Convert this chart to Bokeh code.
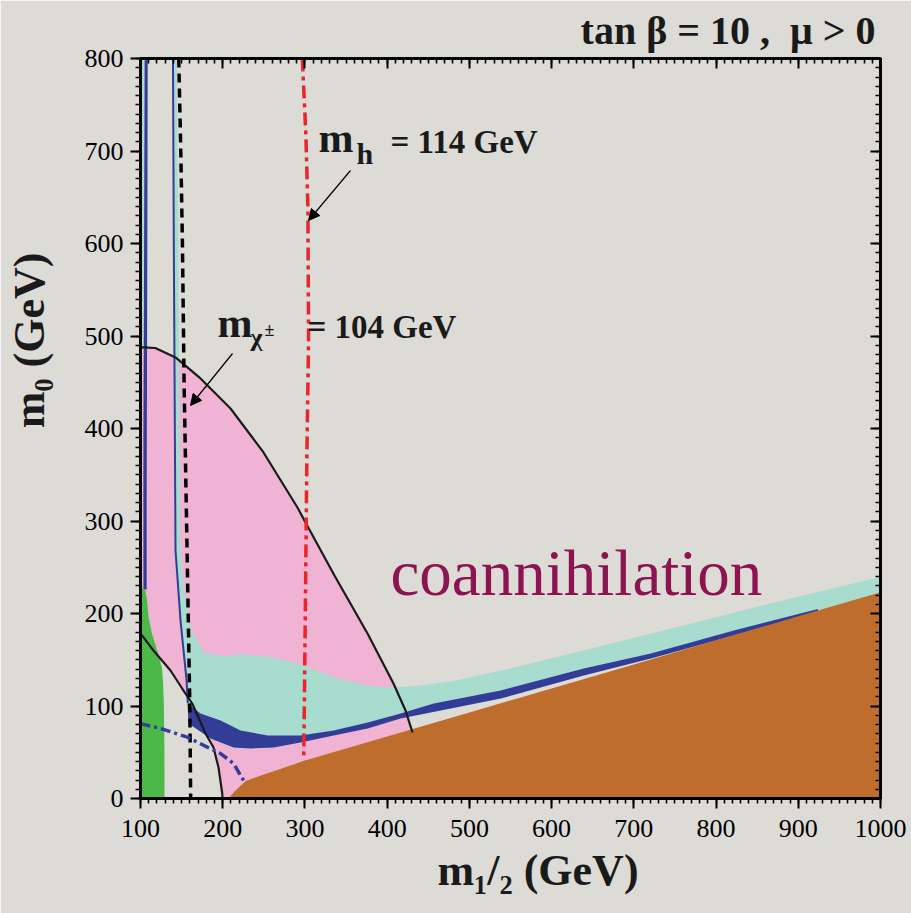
import math
from bokeh.plotting import figure
from bokeh.models import Range1d, LinearAxis, Label, Arrow, NormalHead, FixedTicker, Title
from bokeh.embed import file_html
from bokeh.resources import INLINE

# ---------------- data: (m_1/2, m_0) in GeV ----------------
x_ticks = [100, 200, 300, 400, 500, 600, 700, 800, 900, 1000]
y_ticks = [0, 100, 200, 300, 400, 500, 600, 700, 800]

# g-2 favoured region: upper and lower contours
gm2_up_m12 = [100, 103.6, 118, 142.6, 173, 209.5, 249.6, 290.9, 300.7, 335.9, 376.1, 407.7, 422.3, 430.8]
gm2_up_m0 = [487.6, 487.6, 487, 476.8, 454.1, 421.6, 374.1, 314.6, 298.4, 241.1, 178.4, 124.3, 95.1, 71.4]
gm2_lo_m12 = [100, 102, 115.8, 136.5, 150.7, 162.9, 179.1, 188.8, 194.9, 199.4, 199.8]
gm2_lo_m0 = [178, 176, 160, 138.4, 118.9, 102.7, 70.3, 55.1, 33.5, 5.4, 0]

# older relic-density band (0.1 < Omega h^2 < 0.3)
cyan_m12 = [139.5, 140.5, 142.6, 148.7, 156, 157.5, 158.4, 185, 213, 234, 262, 295, 335, 376,
            416, 538, 639, 721, 822, 924, 1000, 1000, 997, 903, 781.5, 660, 538, 477, 437, 404,
            376, 335, 298, 262, 225, 201, 177, 161, 155, 148.7, 146, 144]
cyan_m0 = [800, 600, 268, 192, 128, 103, 81, 65, 55, 54, 55, 60.5, 68, 76,
           86.5, 108, 133, 151, 176, 202, 223, 240, 239, 219, 192, 165, 138, 126.5, 122, 120,
           122, 131, 144, 152.4, 155.7, 153.5, 157.8, 185, 214, 268, 600, 800]
cyan_left_m12 = [100, 105, 104, 100]
cyan_left_m0 = [800, 800, 487, 487]

# WMAP relic-density band (0.094 < Omega h^2 < 0.129)
wmap_m12 = [157.2, 173, 197.4, 221.7, 254.6, 294.7, 334.9, 376.3, 416.4, 456.6, 538.1, 639.1,
            720.7, 821.7, 924, 924, 821.7, 720.7, 639.1, 538.1, 416.4, 376.3, 334.9, 294.7,
            261.9, 233.9, 213.2, 185.2, 158.4]
wmap_m0 = [102.7, 91.9, 84.3, 73.5, 68.1, 68.1, 73.5, 82.2, 91.9, 102.7, 116.8, 140.5,
           156.8, 181.6, 205, 202, 176.2, 151.4, 133, 108.1, 86.5, 75.7, 68.1, 60.5,
           55.1, 54.1, 55.1, 64.9, 81.1]
wmap_left_m12 = [105, 108.8, 108, 107.5, 107.5, 103.5, 103.5, 104]
wmap_left_m0 = [800, 800, 487, 320, 226, 226, 400, 487]
wmap_edge_m12 = [139.5, 140.5, 142.6, 148.7, 156, 157.5]
wmap_edge_m0 = [800, 600, 268, 192, 128, 103]

# b -> s gamma excluded
bsg_m12 = [100, 129.2, 129, 128.5, 127.5, 126, 121, 114, 110, 108, 106, 103, 100]
bsg_m0 = [0, 0, 60, 100, 125, 142, 158, 178, 195, 214, 225, 228, 226]

# charged LSP (stau) excluded
stau_m12 = [207, 215, 228, 250, 300, 400, 500, 600, 700, 800, 900, 1000, 1000]
stau_m0 = [0, 8, 19, 26, 41, 67, 93, 119, 145, 171, 197, 223, 0]

# LEP limits
chargino_m12 = [146.5, 149, 151, 153, 156, 158, 160, 161]
chargino_m0 = [800, 700, 600, 450, 300, 200, 100, 0]
higgs_m12 = [296.8, 301, 303.6, 304.4, 302.5, 301, 299.5, 298.5]
higgs_m0 = [800, 720, 639, 495, 380, 250, 120, 43]
selectron_m12 = [100, 124.3, 156.8, 181.2, 197.4, 213.2, 225.3]
selectron_m0 = [81, 75.7, 66.3, 55.5, 48.6, 37.8, 19.5]

# ---------------- figure geometry ----------------
W, H = 911, 913
BL, BR, BT, BB = 140, 31, 58, 115
FW, FH = W - BL - BR, H - BT - BB
X0, X1, Y0, Y1 = 100, 1000, 0, 800


def dx(px):
    return X0 + (px - BL) * (X1 - X0) / FW


def dy(py):
    return Y0 + (H - BB - py) * (Y1 - Y0) / FH


BG = "#dddbd6"
SERIF = "Liberation Serif"
INK = "#1a1a1a"
NBSP = "\u00a0"

p = figure(width=W, height=H, x_range=Range1d(X0, X1), y_range=Range1d(Y0, Y1),
           output_backend="svg", toolbar_location=None,
           min_border_left=BL, min_border_right=BR, min_border_top=BT, min_border_bottom=BB)
p.background_fill_color = BG
p.border_fill_color = BG
p.grid.visible = False
p.outline_line_color = "black"
p.outline_line_width = 3

x_minor = list(range(100, 1001, 10))
y_minor = list(range(0, 801, 10))


def style_axis(ax, ticks, minor, inward, labels):
    ax.ticker = FixedTicker(ticks=ticks, minor_ticks=minor)
    ax.axis_line_width = 3
    ax.axis_line_color = "black"
    ax.major_tick_line_width = 2
    ax.minor_tick_line_width = 1.6
    ax.major_tick_line_color = "black"
    ax.minor_tick_line_color = "black"
    if inward:
        ax.major_tick_in, ax.major_tick_out = 10, 0
        ax.minor_tick_in, ax.minor_tick_out = 5, 0
    else:
        ax.major_tick_in, ax.major_tick_out = 0, 10
        ax.minor_tick_in, ax.minor_tick_out = 0, 5
    if labels:
        ax.major_label_text_font = SERIF
        ax.major_label_text_font_size = "26px"
        ax.major_label_text_color = "black"
    else:
        ax.major_label_text_font_size = "0px"
        ax.major_label_text_color = None
        ax.major_label_standoff = 0


style_axis(p.xaxis[0], x_ticks, x_minor, False, True)
p.xaxis[0].major_label_standoff = 11
style_axis(p.yaxis[0], y_ticks, y_minor, False, True)
p.yaxis[0].major_label_standoff = 7

# axis titles (bold serif, unicode subscripts)
for ax, lab, pad, standoff in ((p.xaxis[0], "m₁/₂ (GeV)", 5, 6), (p.yaxis[0], "m₀ (GeV)", 16, 28)):
    ax.axis_label = NBSP * pad + lab
    ax.axis_label_text_font = SERIF
    ax.axis_label_text_font_style = "bold"
    ax.axis_label_text_font_size = "44px"
    ax.axis_label_text_color = INK
    ax.axis_label_standoff = standoff

top_ax = LinearAxis()
right_ax = LinearAxis()
p.add_layout(top_ax, "above")
p.add_layout(right_ax, "right")
style_axis(top_ax, x_ticks, x_minor, True, False)
style_axis(right_ax, y_ticks, y_minor, True, False)

# header
p.add_layout(Title(text="tan β = 10 ," + NBSP * 2 + "μ > 0", align="right", offset=5, standoff=11,
                   text_font=SERIF, text_font_style="bold", text_font_size="40px",
                   text_color=INK), "above")

PINK, CYAN, NAVY = "#f0b3d3", "#a7dccf", "#333d97"
GREEN, BROWN = "#4cb848", "#bf6d2c"

# g-2 region between the two contours
pink_x = gm2_up_m12 + [431, 199.8] + gm2_lo_m12[::-1]
pink_y = gm2_up_m0 + [0, 0] + gm2_lo_m0[::-1]
p.patch(pink_x, pink_y, fill_color=PINK, line_color=None)

p.patch(cyan_m12, cyan_m0, fill_color=CYAN, line_color=None)
p.patch(cyan_left_m12, cyan_left_m0, fill_color=CYAN, line_color=None)
p.patch(wmap_m12, wmap_m0, fill_color=NAVY, line_color=None)
p.patch(wmap_left_m12, wmap_left_m0, fill_color=NAVY, line_color=None)
p.line(wmap_edge_m12, wmap_edge_m0, line_color=NAVY, line_width=2)
p.patch(bsg_m12, bsg_m0, fill_color=GREEN, line_color=None)
p.patch(stau_m12, stau_m0, fill_color=BROWN, line_color=None)

p.line(gm2_up_m12, gm2_up_m0, line_color=INK, line_width=2.2)
p.line(gm2_lo_m12, gm2_lo_m0, line_color=INK, line_width=2.2)
p.line(chargino_m12, chargino_m0, line_color="black", line_width=3.5, line_dash="9 6")
p.line(higgs_m12, higgs_m0, line_color="#e8262b", line_width=3.5, line_dash="13 5 4 5")
p.line(selectron_m12, selectron_m0, line_color="#343f9c", line_width=3.5, line_dash="10 4 3 4")

# arrows pointing at the LEP limit curves
for (x0, y0, x1, y1) in ((350, 170, 308, 220), (232, 353, 190, 405)):
    p.add_layout(Arrow(end=NormalHead(size=11, fill_color="black", line_color="black", line_width=1),
                       x_start=dx(x0), y_start=dy(y0), x_end=dx(x1), y_end=dy(y1),
                       line_color="black", line_width=1.2))


def text(px, py, s, size, bold=True, color=INK, align="left"):
    # py is the intended baseline; the rendered baseline sits about a third of
    # the font size lower, so lift the anchor accordingly
    p.add_layout(Label(x=dx(px), y=dy(py - 0.36 * size), text=s, text_font=SERIF,
                       text_font_style="bold" if bold else "normal",
                       text_font_size=f"{size}px", text_color=color, text_align=align,
                       text_baseline="alphabetic"))


# curve labels
text(318, 153, "m", 42)
text(356, 164, "h", 30)
text(390, 153, "= 114 GeV", 33)
text(217, 338, "m", 42)
text(250, 346, "χ", 26)
text(264, 336, "±", 18)
text(307, 338, "= 104 GeV", 33)
text(390, 596, "coannihilation", 65, bold=False, color="#8c1450")

open("out.html", "w").write(file_html(p, INLINE))
